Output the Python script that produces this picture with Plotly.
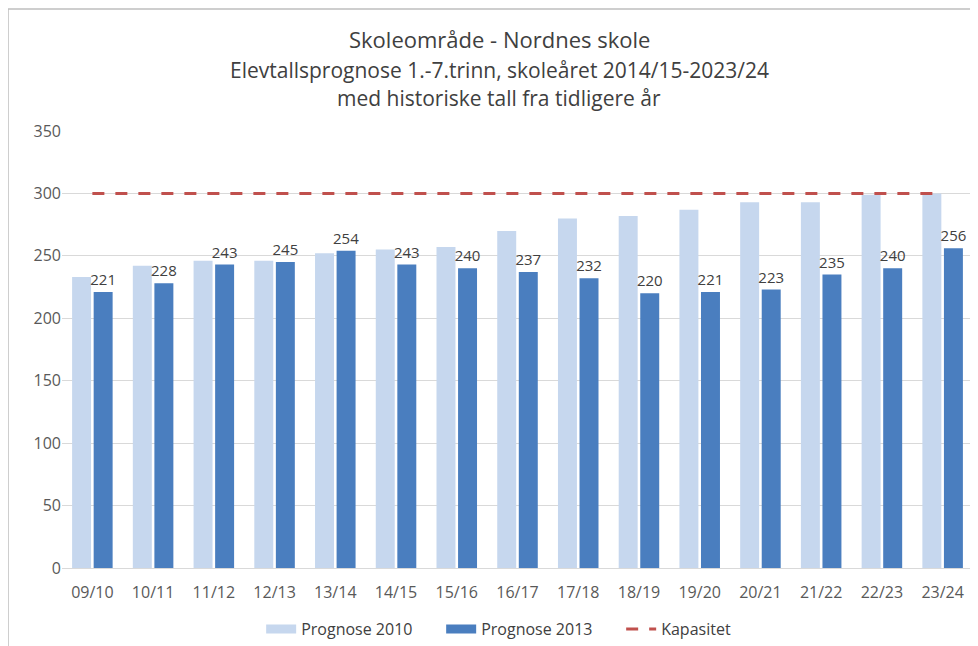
import plotly.graph_objects as go

categories = ["09/10", "10/11", "11/12", "12/13", "13/14", "14/15", "15/16", "16/17",
              "17/18", "18/19", "19/20", "20/21", "21/22", "22/23", "23/24"]
prognose_2010 = [233, 242, 246, 246, 252, 255, 257, 270, 280, 282, 287, 293, 293, 299, 300]
prognose_2013 = [221, 228, 243, 245, 254, 243, 240, 237, 232, 220, 221, 223, 235, 240, 256]
kapasitet = [300] * len(categories)
y_ticks = [0, 50, 100, 150, 200, 250, 300, 350]

FONT = "Open Sans"
TXT = "#404040"
LIGHT = "#c6d7ee"
DARK = "#4a7ebf"

fig = go.Figure()
fig.add_trace(go.Bar(name="Prognose 2010", x=categories, y=prognose_2010,
                     marker=dict(color=LIGHT, line_width=0), showlegend=False))
fig.add_trace(go.Bar(name="Prognose 2013", x=categories, y=prognose_2013,
                     marker=dict(color=DARK, line_width=0), showlegend=False,
                     text=[str(v) for v in prognose_2013], textposition="outside",
                     constraintext="none",
                     textfont=dict(family=FONT, size=15, color=TXT), cliponaxis=False))
fig.add_trace(go.Scatter(name="Kapasitet", x=categories, y=kapasitet, mode="lines",
                         line=dict(color="#c0504d", width=3, dash="12px,11px"),
                         showlegend=False))
# legend entries (wide rectangular swatches like the original)
fig.add_trace(go.Scatter(name="Prognose 2010", x=[None], y=[None], mode="lines",
                         line=dict(color=LIGHT, width=9)))
fig.add_trace(go.Scatter(name="Prognose 2013", x=[None], y=[None], mode="lines",
                         line=dict(color=DARK, width=9)))
fig.add_trace(go.Scatter(name="Kapasitet", x=[None], y=[None], mode="lines",
                         line=dict(color="#c0504d", width=3, dash="12px,11px")))

# page body has an 8px margin, so the figure is drawn at (8, 8)
fig.update_layout(
    width=970, height=638,
    margin=dict(l=54, r=5, t=123, b=78, autoexpand=False),
    paper_bgcolor="white", plot_bgcolor="white",
    barmode="group", bargap=0.29, bargroupgap=0.12,
    font=dict(family=FONT, color=TXT, size=14),
    showlegend=True,
    legend=dict(orientation="h", x=0.515, xanchor="center", y=(560 - 621) / 437, yanchor="middle",
                font=dict(family=FONT, size=16, color=TXT), traceorder="normal",
                itemwidth=30, entrywidth=135),
    xaxis=dict(showgrid=False, showline=True, linecolor="#d9d9d9", ticks="",
               ticklabelstandoff=10,
               tickfont=dict(family=FONT, size=16, color="#595959")),
    yaxis=dict(range=[0, 350], tickvals=y_ticks, showgrid=True, gridcolor="#d9d9d9",
               zeroline=False, showline=False, ticks="",
               tickfont=dict(family=FONT, size=16, color="#595959")),
)

fig.add_annotation(text="Skoleområde - Nordnes skole", xref="paper", yref="paper",
                   x=0.48, y=(560 - 31) / 437, showarrow=False, yanchor="middle",
                   font=dict(family=FONT, size=22, color=TXT))
fig.add_annotation(text="Elevtallsprognose 1.-7.trinn, skoleåret 2014/15-2023/24", xref="paper", yref="paper",
                   x=0.48, y=(560 - 62) / 437, showarrow=False, yanchor="middle",
                   font=dict(family=FONT, size=21, color=TXT))
fig.add_annotation(text="med historiske tall fra tidligere år", xref="paper", yref="paper",
                   x=0.48, y=(560 - 90) / 437, showarrow=False, yanchor="middle",
                   font=dict(family=FONT, size=21, color=TXT))

fig.add_shape(type="rect", xref="paper", yref="paper",
              x0=(0 - 54) / 911, x1=1.02, y0=-0.3, y1=(560 - 1) / 437,
              line=dict(color="#bfbfbf", width=1.5), layer="below")

fig.write_html("out.html")
